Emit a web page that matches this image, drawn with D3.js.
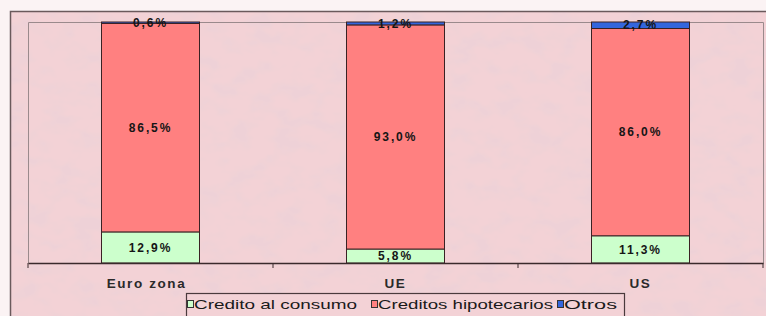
<!DOCTYPE html>
<html>
<head>
<meta charset="utf-8">
<script src="https://cdn.jsdelivr.net/npm/d3@7"></script>
<style>
  html, body { margin: 0; padding: 0; background: #fbf3f4; }
  svg { display: block; }
  text { font-family: "Liberation Sans", Arial, sans-serif; }
</style>
</head>
<body>
<svg id="chart" width="766" height="316"></svg>
<script>
const categories = ["Euro zona", "UE", "US"];
const seriesNames = ["Credito al consumo", "Creditos hipotecarios", "Otros"];
const consumo = [12.9, 5.8, 11.3];
const hipotecarios = [86.5, 93.0, 86.0];
const otros = [0.6, 1.2, 2.7];
const seriesColors = ["#ccffcc", "#ff8080", "#3366dd"];

const rows = categories.map((c, i) => ({
  cat: c,
  "Credito al consumo": consumo[i],
  "Creditos hipotecarios": hipotecarios[i],
  "Otros": otros[i]
}));

const svg = d3.select("#chart");
const W = 766, H = 316;
const plot = { left: 28, right: 763, top: 22, bottom: 263 };

// textured pink background
const defs = svg.append("defs");
const f = defs.append("filter").attr("id", "tex")
  .attr("filterUnits", "userSpaceOnUse")
  .attr("x", 0).attr("y", 0).attr("width", W).attr("height", H);
f.append("feTurbulence").attr("type", "fractalNoise")
  .attr("baseFrequency", "0.04 0.06").attr("numOctaves", 3).attr("seed", 7).attr("result", "n");
f.append("feColorMatrix").attr("in", "n").attr("type", "matrix")
  .attr("values", "0 0 0 0 0.85  0 0 0 0 0.64  0 0 0 0 0.68  3 0 0 0 -1.3").attr("result", "c");
f.append("feComposite").attr("in", "c").attr("in2", "SourceGraphic").attr("operator", "atop");

svg.append("rect").attr("x", 10).attr("y", 11).attr("width", W - 10).attr("height", H - 11)
  .attr("fill", "#f3d2d6").attr("filter", "url(#tex)");
svg.append("path").attr("d", `M10.5,${H}V11.5H${W}`)
  .attr("fill", "none").attr("stroke", "#6a5a5c").attr("stroke-width", 1.5);

const x = d3.scaleBand().domain(categories)
  .range([plot.left, plot.right]).paddingInner(0.6).paddingOuter(0.3);
const y = d3.scaleLinear().domain([0, 100]).range([plot.bottom, plot.top]);

// plot area frame
svg.append("path")
  .attr("d", `M${plot.left + 0.5},${plot.bottom}V${plot.top + 0.5}H${plot.right + 0.5}V${plot.bottom}`)
  .attr("fill", "none").attr("stroke", "#9a8a8c").attr("stroke-width", 1);

const stack = d3.stack().keys(seriesNames);
const layers = stack(rows);

const g = svg.append("g");
layers.forEach((layer, li) => {
  g.selectAll(null).data(layer).enter().append("rect")
    .attr("x", d => x(d.data.cat))
    .attr("width", x.bandwidth())
    .attr("y", d => y(d[1]))
    .attr("height", d => y(d[0]) - y(d[1]))
    .attr("fill", seriesColors[li])
    .attr("stroke", "#3a2224").attr("stroke-width", 1);
});

// value labels
const fmt = v => v.toFixed(1).replace(".", ",") + "%";
layers.forEach((layer, li) => {
  g.selectAll(null).data(layer).enter().append("text")
    .attr("x", d => x(d.data.cat) + x.bandwidth() / 2)
    .attr("y", d => (y(d[0]) + y(d[1])) / 2)
    .attr("dy", "0.35em")
    .attr("text-anchor", "middle")
    .attr("font-size", 12).attr("font-weight", "bold").attr("letter-spacing", 1.9)
    .attr("fill", "#151515")
    .text(d => fmt(d[1] - d[0]));
});

// x axis
const axis = svg.append("g").attr("transform", `translate(0,${plot.bottom})`)
  .call(d3.axisBottom(x).tickSize(0).tickPadding(15));
axis.select(".domain").attr("stroke", "#3a2a2c").attr("stroke-width", 1.5);
axis.selectAll("text").attr("font-size", 13.5).attr("font-weight", "bold").attr("letter-spacing", 1.6)
  .attr("fill", "#2a2a2a").attr("font-family", "Liberation Sans, Arial, sans-serif")
  .attr("dx", d => d === "Euro zona" ? -4 : 0);
// tick marks at category boundaries
const bounds = d3.range(categories.length + 1).map(i => plot.left + i * x.step());
axis.selectAll(".bt").data(bounds).enter().append("line")
  .attr("x1", d => d).attr("x2", d => d).attr("y1", 0).attr("y2", 5)
  .attr("stroke", "#3a2a2c").attr("stroke-width", 1);

// legend
const lg = svg.append("g");
lg.append("rect").attr("x", 186.5).attr("y", 293.5).attr("width", 438).attr("height", 30)
  .attr("fill", "#f3d2d6").attr("stroke", "#4a3a3c").attr("stroke-width", 1.2);
const legendX = [187, 371, 557];
const legendLen = [163, 175, 53];
seriesNames.forEach((s, i) => {
  lg.append("rect").attr("x", legendX[i] + 0.5).attr("y", 300.5).attr("width", 6).attr("height", 7)
    .attr("fill", seriesColors[i]).attr("stroke", "#333").attr("stroke-width", 1);
  lg.append("text").attr("x", legendX[i] + 7).attr("y", 304).attr("dy", "0.35em")
    .attr("font-size", 13).attr("fill", "#1a1a1a")
    .attr("textLength", legendLen[i]).attr("lengthAdjust", "spacingAndGlyphs")
    .text(s);
});
</script>
</body>
</html>
